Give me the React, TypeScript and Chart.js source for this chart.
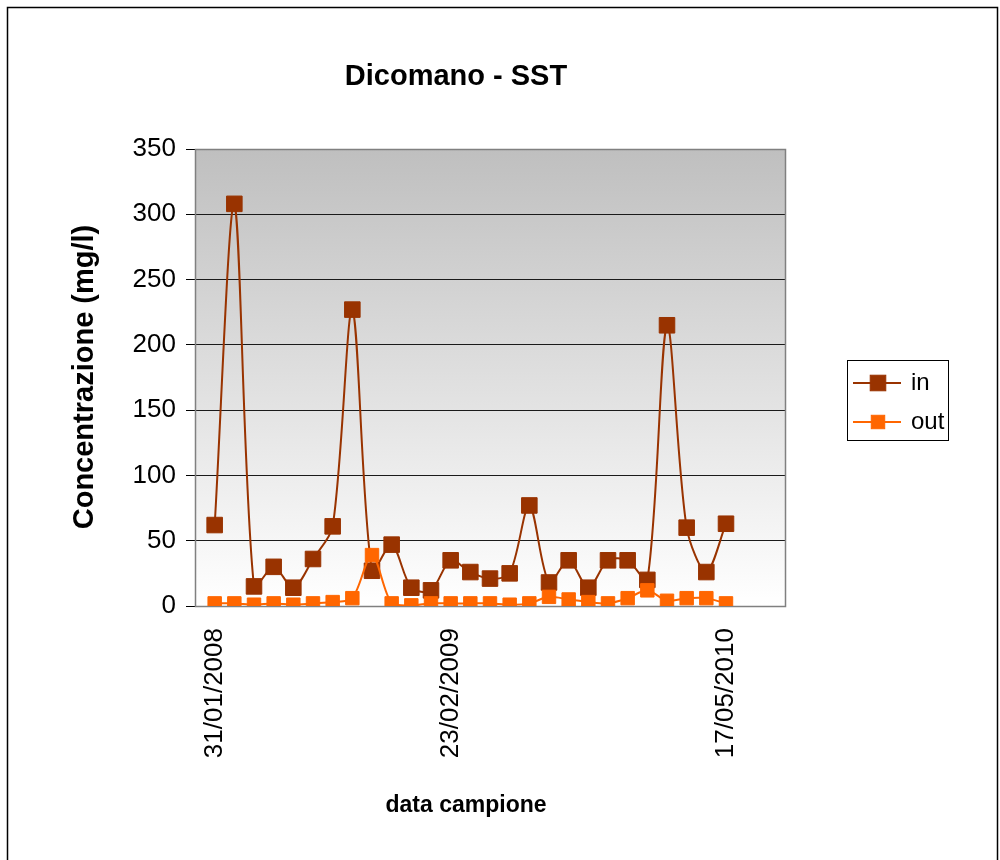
import React, { useEffect, useRef } from "react";
import { Chart, registerables } from "chart.js";

Chart.register(...registerables);

// ---- data ----
const chartTitle = "Dicomano - SST";
const yAxisTitle = "Concentrazione (mg/l)";
const xAxisTitle = "data campione";
const seriesNames = ["in", "out"];
const inValues = [62, 308, 15, 30, 14, 36, 61, 227, 27, 47, 14, 12, 35, 26, 21, 25, 77, 18, 35, 14, 35, 35, 20, 215, 60, 26, 63];
const outValues = [2, 2, 1, 2, 1, 2, 3, 6, 39, 2, 0.5, 2, 2, 2, 2, 1, 2, 7, 5, 3, 2, 6, 12, 4, 6, 6, 2];
const xTickLabels = ["31/01/2008", "23/02/2009", "17/05/2010"];
const xTickIndices = [0, 12, 26];
const yMin = 0;
const yMax = 350;
const yStep = 50;

// ---- style ----
const FONT = "'Liberation Sans', Arial, sans-serif";
const IN_COLOR = "#993300";
const OUT_COLOR = "#FF6600";
const IN_RADIUS = 11;
const OUT_RADIUS = 9.5;

const decorPlugin = {
  id: "decor",
  beforeDraw(chart: any) {
    const { ctx, chartArea: a, width, height } = chart;
    ctx.save();
    ctx.fillStyle = "#ffffff";
    ctx.fillRect(0, 0, width, height);
    const g = ctx.createLinearGradient(0, a.top, 0, a.bottom);
    g.addColorStop(0, "#bfbfbf");
    g.addColorStop(1, "#ffffff");
    ctx.fillStyle = g;
    ctx.fillRect(a.left, a.top, a.right - a.left, a.bottom - a.top);
    ctx.restore();
  },
  beforeDatasetsDraw(chart: any) {
    const { ctx, chartArea: a } = chart;
    ctx.save();
    ctx.strokeStyle = "#808080";
    ctx.lineWidth = 1.5;
    ctx.strokeRect(Math.round(a.left) + 0.5, Math.round(a.top) + 0.5, Math.round(a.right - a.left), Math.round(a.bottom - a.top));
    ctx.restore();
  },
  afterDraw(chart: any) {
    const { ctx } = chart;
    ctx.save();
    // outer border
    ctx.strokeStyle = "#000";
    ctx.lineWidth = 1.5;
    ctx.strokeRect(7.5, 7.5, 990, 900);

    // title
    ctx.fillStyle = "#000";
    ctx.font = `bold 29px ${FONT}`;
    ctx.textAlign = "center";
    ctx.textBaseline = "middle";
    ctx.fillText(chartTitle, 456, 77);

    // x axis title
    ctx.font = `bold 23px ${FONT}`;
    ctx.textBaseline = "alphabetic";
    ctx.fillText(xAxisTitle, 466, 812);

    // y axis title
    ctx.save();
    ctx.translate(93, 377);
    ctx.rotate(-Math.PI / 2);
    ctx.font = `bold 29px ${FONT}`;
    ctx.textAlign = "center";
    ctx.textBaseline = "alphabetic";
    ctx.fillText(yAxisTitle, 0, 0);
    ctx.restore();

    // legend
    ctx.strokeStyle = "#000";
    ctx.lineWidth = 1;
    ctx.strokeRect(847.5, 360.5, 101, 80);
    const entries = [
      { name: seriesNames[0], color: IN_COLOR, r: IN_RADIUS, y: 383 },
      { name: seriesNames[1], color: OUT_COLOR, r: OUT_RADIUS, y: 422 },
    ];
    for (const e of entries) {
      ctx.strokeStyle = e.color;
      ctx.lineWidth = 2;
      ctx.beginPath();
      ctx.moveTo(853, e.y);
      ctx.lineTo(901, e.y);
      ctx.stroke();
      const s = Math.SQRT1_2 * e.r;
      ctx.fillStyle = e.color;
      ctx.fillRect(878 - s, e.y - s, 2 * s, 2 * s);
      ctx.lineWidth = 1;
      ctx.strokeRect(878 - s, e.y - s, 2 * s, 2 * s);
      ctx.fillStyle = "#000";
      ctx.font = `24px ${FONT}`;
      ctx.textAlign = "left";
      ctx.textBaseline = "middle";
      ctx.fillText(e.name, 911, e.y);
    }
    ctx.restore();
  },
};

export default function App() {
  const ref = useRef<HTMLCanvasElement>(null);

  useEffect(() => {
    if (!ref.current) return;
    const chart = new Chart(ref.current, {
      type: "line",
      data: {
        datasets: [
          {
            label: seriesNames[0],
            data: inValues.map((v, i) => ({ x: i, y: v })),
            borderColor: IN_COLOR,
            backgroundColor: IN_COLOR,
            pointBackgroundColor: IN_COLOR,
            pointBorderColor: IN_COLOR,
            borderWidth: 2,
            pointStyle: "rect",
            pointRadius: IN_RADIUS,
            pointBorderWidth: 1,
            tension: 0.3,
            fill: false,
            order: 1,
          },
          {
            label: seriesNames[1],
            data: outValues.map((v, i) => ({ x: i, y: v })),
            borderColor: OUT_COLOR,
            backgroundColor: OUT_COLOR,
            pointBackgroundColor: OUT_COLOR,
            pointBorderColor: OUT_COLOR,
            borderWidth: 2,
            pointStyle: "rect",
            pointRadius: OUT_RADIUS,
            pointBorderWidth: 1,
            tension: 0.3,
            fill: false,
            order: 0,
          },
        ],
      },
      options: {
        animation: false,
        responsive: false,
        devicePixelRatio: 1,
        layout: { padding: { left: 95, right: 215, top: 149, bottom: 54 } },
        plugins: {
          legend: { display: false },
          title: { display: false },
          tooltip: { enabled: false },
        },
        scales: {
          x: {
            type: "linear",
            min: -1,
            max: 29,
            afterBuildTicks: (s: any) => {
              s.ticks = xTickIndices.map((v) => ({ value: v }));
            },
            afterFit: (s: any) => {
              s.height = 200;
            },
            grid: { display: false, drawTicks: false, tickLength: 0 },
            border: { display: false },
            ticks: {
              autoSkip: false,
              minRotation: 90,
              maxRotation: 90,
              padding: 22,
              color: "#000",
              font: { family: FONT, size: 26 },
              callback: (v: any) => {
                const k = xTickIndices.indexOf(Number(v));
                return k >= 0 ? xTickLabels[k] : "";
              },
            },
          },
          y: {
            min: yMin,
            max: yMax,
            afterFit: (s: any) => {
              s.width = 100;
            },
            ticks: {
              stepSize: yStep,
              padding: 10,
              color: "#000",
              font: { family: FONT, size: 26 },
            },
            grid: {
              color: (c: any) =>
                c.tick && (c.tick.value === yMin || c.tick.value === yMax) ? "rgba(0,0,0,0)" : "#1a1a1a",
              tickColor: "#000",
              tickLength: 9,
              lineWidth: 1,
            },
            border: { display: false },
          },
        },
      },
      plugins: [decorPlugin],
    } as any);
    return () => chart.destroy();
  }, []);

  return (
    <div style={{ position: "absolute", left: 0, top: 0, width: 1000, height: 860, overflow: "hidden" }}>
      <canvas ref={ref} width={1000} height={860} style={{ display: "block", width: 1000, height: 860 }} />
    </div>
  );
}
